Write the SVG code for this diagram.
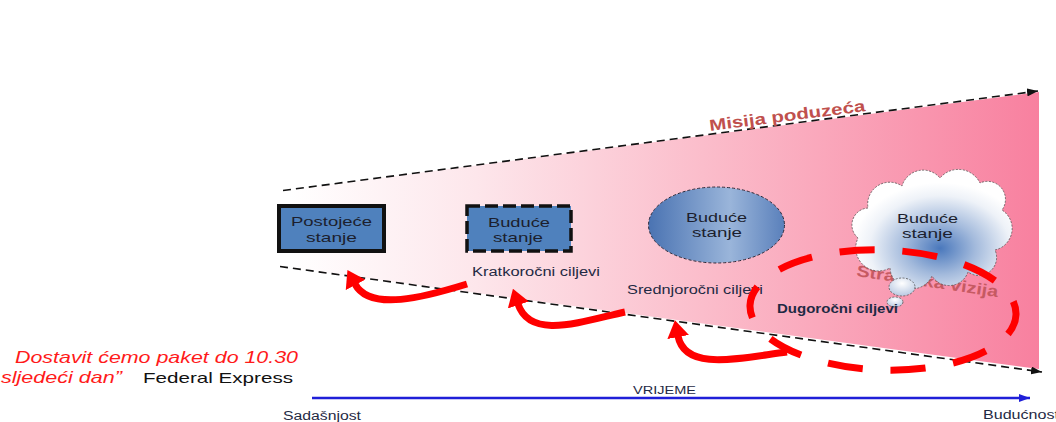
<svg xmlns="http://www.w3.org/2000/svg" width="1056" height="422" viewBox="0 0 1056 422">
<style>
text{font-family:"Liberation Sans",Arial,sans-serif}
.node{font-size:13.5px;fill:#1c1f2e}
.lbl{font-size:12px;fill:#1f2a44}
.guide{fill:none;stroke:#111;stroke-width:1.6;stroke-dasharray:8 5}
.redarrow{fill:none;stroke:#ff0000;stroke-width:7;marker-end:url(#mkRed)}
.quote{font-size:16.5px;font-style:italic;fill:#ff1a1a}
</style>
<defs>
<linearGradient id="gWedge" gradientUnits="userSpaceOnUse" x1="290" y1="0" x2="1040" y2="0">
<stop offset="0" stop-color="#ffffff"/>
<stop offset="0.25" stop-color="#fde6eb"/>
<stop offset="0.55" stop-color="#fbbdcb"/>
<stop offset="1" stop-color="#f8809f"/>
</linearGradient>
<linearGradient id="gEll" x1="0" y1="0" x2="1" y2="0">
<stop offset="0" stop-color="#4a73b2"/>
<stop offset="0.6" stop-color="#9ab5da"/>
<stop offset="1" stop-color="#5a80bb"/>
</linearGradient>
<radialGradient id="gCloud" cx="0.55" cy="0.66" r="0.55">
<stop offset="0" stop-color="#4a78bc"/>
<stop offset="0.4" stop-color="#a3badc"/>
<stop offset="0.8" stop-color="#eef2f8"/>
<stop offset="1" stop-color="#ffffff"/>
</radialGradient>
<radialGradient id="gBub" cx="0.5" cy="0.3" r="0.7">
<stop offset="0" stop-color="#ffffff"/>
<stop offset="1" stop-color="#b9c9e2"/>
</radialGradient>
<marker id="mkBlack" viewBox="0 0 11 8" refX="11" refY="4" markerWidth="11" markerHeight="8" markerUnits="userSpaceOnUse" orient="auto">
<path d="M0,0 L11,4 L0,8 Z" fill="#111"/>
</marker>
<marker id="mkBlue" viewBox="0 0 11 8" refX="11" refY="4" markerWidth="11" markerHeight="8" markerUnits="userSpaceOnUse" orient="auto">
<path d="M0,0 L11,4 L0,8 Z" fill="#1f1fd8"/>
</marker>
<marker id="mkRed" viewBox="0 -11 17 22" refX="1" refY="0" markerWidth="17" markerHeight="22" markerUnits="userSpaceOnUse" orient="auto">
<path d="M0,-11 L17,0 L0,11 Z" fill="#ff0000"/>
</marker>
</defs>
<rect width="1056" height="422" fill="#ffffff"/>

<g id="wedge">
<polygon points="283,190.5 1039,92 1039,369 280,266.5" fill="url(#gWedge)"/>
</g>

<g id="connectors">
<path class="guide" d="M283,190.5 L1038,91" marker-end="url(#mkBlack)"/>
<path class="guide" d="M280,266.5 L1042,372" marker-end="url(#mkBlack)"/>
<path class="redarrow" d="M467,284 C425,297 370,312 355,284"/>
<path class="redarrow" d="M625,312 C580,322 530,340 518,304"/>
<path class="redarrow" d="M787,352 C740,358 685,372 678,336"/>
<path d="M312,398 L1030,398" stroke="#1f1fd8" stroke-width="2.5" fill="none" marker-end="url(#mkBlue)"/>
</g>

<g id="misija">
<text transform="rotate(-7.3 710 131)" x="710" y="131" font-size="16" font-weight="bold" fill="#c0504d" textLength="157" lengthAdjust="spacingAndGlyphs">Misija poduzeća</text>
</g>

<g id="postojece">
<rect x="279" y="206" width="105" height="45" fill="#4f81bd" stroke="#111" stroke-width="4"/>
<text class="node" x="291" y="226" textLength="81" lengthAdjust="spacingAndGlyphs">Postojeće</text>
<text class="node" x="306" y="242" textLength="51" lengthAdjust="spacingAndGlyphs">stanje</text>
</g>

<g id="buduce1">
<rect x="467" y="206" width="104" height="45" fill="#4f81bd" stroke="#111" stroke-width="3.5" stroke-dasharray="13 5"/>
<text class="node" x="488" y="227" textLength="62" lengthAdjust="spacingAndGlyphs">Buduće</text>
<text class="node" x="493" y="242" textLength="50" lengthAdjust="spacingAndGlyphs">stanje</text>
</g>

<g id="buduce2">
<ellipse cx="716.5" cy="225" rx="68" ry="38" fill="url(#gEll)" stroke="#2a2a3a" stroke-width="1" stroke-dasharray="3 2"/>
<text class="node" x="686" y="222" textLength="61" lengthAdjust="spacingAndGlyphs">Buduće</text>
<text class="node" x="692" y="237" textLength="50" lengthAdjust="spacingAndGlyphs">stanje</text>
</g>

<g id="vizija">
<text transform="rotate(8.5 856 276)" x="856" y="276" font-size="16" font-weight="bold" fill="#c65a62" textLength="143" lengthAdjust="spacingAndGlyphs">Strateška vizija</text>
</g>

<g id="buduce3">
<path d="M858,238 A17,17 0 0 1 868,208 A22,22 0 0 1 902,186 A22,22 0 0 1 940,178 A24,24 0 0 1 980,183 A18,18 0 0 1 1002,210 A22,22 0 0 1 995,250 A18,18 0 0 1 968,272 A20,20 0 0 1 932,276 A22,22 0 0 1 890,268 A23,23 0 0 1 858,238 Z" fill="url(#gCloud)" stroke="#555" stroke-width="0.8" stroke-dasharray="2 1.5"/>
<ellipse cx="902" cy="287" rx="13" ry="9" fill="url(#gBub)" stroke="#555" stroke-width="0.8" stroke-dasharray="2 1.5"/>
<ellipse cx="895" cy="302" rx="8" ry="5" fill="url(#gBub)" stroke="#555" stroke-width="0.8" stroke-dasharray="2 1.5"/>
<text class="node" x="897" y="223" textLength="61" lengthAdjust="spacingAndGlyphs">Buduće</text>
<text class="node" x="902" y="238" textLength="51" lengthAdjust="spacingAndGlyphs">stanje</text>
</g>

<g id="labels">
<text class="lbl" x="472" y="276" textLength="128" lengthAdjust="spacingAndGlyphs">Kratkoročni ciljevi</text>
<text class="lbl" x="627" y="294" textLength="136" lengthAdjust="spacingAndGlyphs">Srednjoročni ciljevi</text>
<text class="lbl" x="777" y="313" font-weight="bold" fill="#141a33" textLength="121" lengthAdjust="spacingAndGlyphs">Dugoročni ciljevi</text>
</g>

<g id="strategija">
<path d="M750,305.4 A133,60 2 0 1 1016,314.6 A133,60 2 0 1 750,305.4 Z" fill="none" stroke="#ff0000" stroke-width="7" stroke-dasharray="35 28" stroke-dashoffset="14.5"/>
</g>

<g id="timeline">
<text x="633" y="394" font-size="11.5px" fill="#1f2a44" textLength="63" lengthAdjust="spacingAndGlyphs">VRIJEME</text>
<text x="283" y="420" font-size="12px" fill="#1f2a44" textLength="78" lengthAdjust="spacingAndGlyphs">Sadašnjost</text>
<text x="983" y="419" font-size="12px" fill="#1f2a44" textLength="76" lengthAdjust="spacingAndGlyphs">Budućnost</text>
</g>

<g id="quote">
<text class="quote" x="15" y="363" textLength="283" lengthAdjust="spacingAndGlyphs">Dostavit ćemo paket do 10.30</text>
<text class="quote" x="1" y="383" textLength="121" lengthAdjust="spacingAndGlyphs">sljedeći dan”</text>
<text x="143" y="383" font-size="15px" fill="#111" textLength="150" lengthAdjust="spacingAndGlyphs">Federal Express</text>
</g>
</svg>
